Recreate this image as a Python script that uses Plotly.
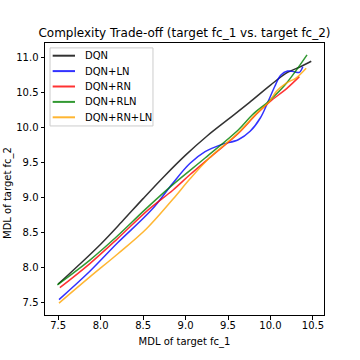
import plotly.graph_objects as go

# ---- data ----
series_names = ["DQN", "DQN+LN", "DQN+RN", "DQN+RLN", "DQN+RN+LN"]
series_colors = ["black", "blue", "red", "green", "orange"]

dqn_x = [7.50, 7.75, 8.00, 8.25, 8.50, 8.75, 9.00, 9.25, 9.50, 9.75, 10.00, 10.20, 10.35, 10.48]
dqn_y = [7.76, 8.04, 8.33, 8.65, 8.98, 9.30, 9.60, 9.87, 10.11, 10.35, 10.60, 10.78, 10.86, 10.94]

ln_x = [7.51, 7.87, 8.20, 8.60, 8.85, 9.05, 9.23, 9.42, 9.62, 9.76, 9.88, 9.97, 10.05, 10.12, 10.20, 10.28, 10.34, 10.38]
ln_y = [7.54, 7.94, 8.35, 8.82, 9.20, 9.48, 9.65, 9.75, 9.82, 9.94, 10.13, 10.36, 10.58, 10.74, 10.80, 10.79, 10.78, 10.86]

rn_x = [7.52, 7.87, 8.20, 8.56, 8.85, 9.05, 9.28, 9.62, 9.83, 9.99, 10.19, 10.34]
rn_y = [7.71, 8.05, 8.41, 8.82, 9.10, 9.32, 9.56, 9.91, 10.18, 10.36, 10.55, 10.72]

rln_x = [7.49, 7.87, 8.20, 8.52, 8.85, 9.23, 9.62, 9.79, 9.99, 10.19, 10.43]
rln_y = [7.75, 8.10, 8.45, 8.82, 9.18, 9.56, 9.96, 10.18, 10.38, 10.63, 11.03]

rnln_x = [7.51, 7.87, 8.20, 8.54, 8.85, 9.05, 9.28, 9.62, 9.83, 9.99, 10.07, 10.19, 10.30, 10.42]
rnln_y = [7.49, 7.86, 8.19, 8.55, 8.97, 9.26, 9.56, 9.92, 10.19, 10.37, 10.51, 10.63, 10.70, 10.84]

x_ticks = [7.5, 8.0, 8.5, 9.0, 9.5, 10.0, 10.5]
y_ticks = [7.5, 8.0, 8.5, 9.0, 9.5, 10.0, 10.5, 11.0]

all_x = [dqn_x, ln_x, rn_x, rln_x, rnln_x]
all_y = [dqn_y, ln_y, rn_y, rln_y, rnln_y]

FONT = "DejaVu Sans"
FIG_W, FIG_H = 360, 360
PLOT_H = 272.0

fig = go.Figure()
for name, color, xs, ys in zip(series_names, series_colors, all_x, all_y):
    fig.add_trace(go.Scatter(
        x=xs, y=ys, mode="lines", name=name,
        line=dict(color=color, width=1.5, shape="spline", smoothing=1.0),
        opacity=0.8, showlegend=False,
    ))

# ---- custom legend (matplotlib-like compact box) ----
shapes = [dict(type="rect", xref="paper", yref="paper",
               x0=0.018, x1=0.387, y0=0.695, y1=0.982,
               line=dict(color="#cccccc", width=1), fillcolor="rgba(255,255,255,0.8)",
               layer="above")]
annotations = []
for i, (name, color) in enumerate(zip(series_names, series_colors)):
    yy = 1 - (12.7 + 15.4 * i) / PLOT_H
    shapes.append(dict(type="line", xref="paper", yref="paper",
                       x0=0.0275, x1=0.1075, y0=yy, y1=yy,
                       line=dict(color=color, width=2), opacity=0.8, layer="above"))
    annotations.append(dict(xref="paper", yref="paper", x=0.1355, y=yy,
                            xanchor="left", yanchor="middle", text=name,
                            showarrow=False, font=dict(family=FONT, size=10, color="black")))

# y-axis title as rotated annotation
annotations.append(dict(xref="paper", yref="paper", x=0, y=1 - 150 / PLOT_H,
                        xanchor="center", yanchor="middle", xshift=-37.0,
                        text="MDL of target fc_2", textangle=-90, showarrow=False,
                        font=dict(family=FONT, size=10, color="black")))

axis_common = dict(
    showgrid=False, zeroline=False, showline=True, linecolor="black", linewidth=1,
    mirror=True, ticks="outside", ticklen=3.5, tickcolor="black", tickwidth=1,
    tickfont=dict(family=FONT, size=10, color="black"), tickformat=".1f",
    automargin=False,
)

fig.update_layout(
    width=FIG_W, height=FIG_H,
    margin=dict(l=45, r=36, t=43, b=45),
    paper_bgcolor="white", plot_bgcolor="white",
    title=dict(text="Complexity Trade-off (target fc_1 vs. target fc_2)",
               x=0.5, xref="paper", xanchor="center",
               y=1 - 33 / FIG_H, yref="container", yanchor="middle",
               font=dict(family=FONT, size=12, color="black"),
               automargin=False),
    xaxis=dict(range=[7.345, 10.63], tickvals=x_ticks, ticklabelstandoff=-3,
               title=dict(text="MDL of target fc_1", font=dict(family=FONT, size=10, color="black"), standoff=8),
               **axis_common),
    yaxis=dict(range=[7.32, 11.2], tickvals=y_ticks, ticklabelstandoff=0,
               **axis_common),
    shapes=shapes, annotations=annotations,
    font=dict(family=FONT),
)

fig.write_html("out.html", config={"displayModeBar": False},
               post_script="document.body.style.margin='0px';")
